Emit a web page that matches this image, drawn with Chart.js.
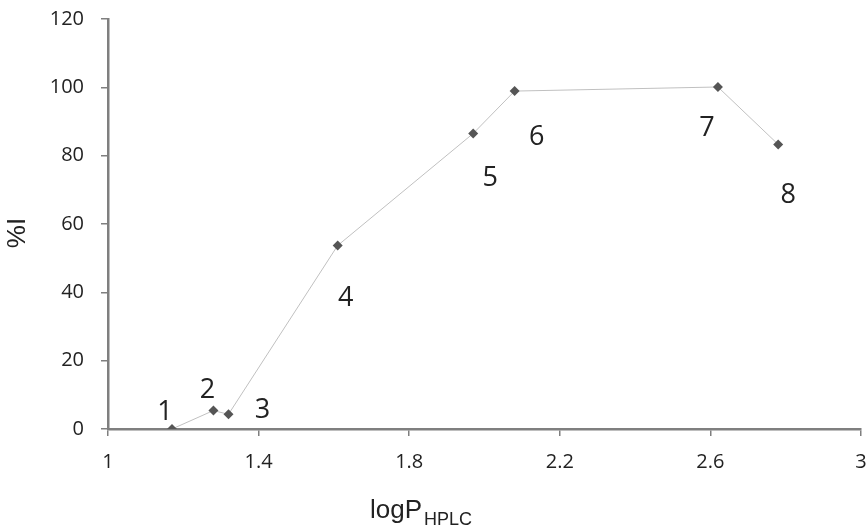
<!DOCTYPE html>
<html>
<head>
<meta charset="utf-8">
<script src="https://cdn.jsdelivr.net/npm/chart.js@4.4.1/dist/chart.umd.min.js"></script>
<style>
  html, body { margin: 0; padding: 0; background: #fff; }
  #wrap { width: 868px; height: 530px; }
</style>
</head>
<body>
<div id="wrap"><canvas id="chart" width="868" height="530"></canvas></div>
<script>
// compound numbers, logP (HPLC) and inhibition %
const compoundLabels = ['1', '2', '3', '4', '5', '6', '7', '8'];
const logP = [1.17, 1.28, 1.32, 1.61, 1.97, 2.08, 2.62, 2.78];
const inhibition = [0, 5.4, 4.3, 53.7, 86.5, 98.9, 100.1, 83.3];
// where each number sits relative to its point (px)
const labelOffsets = [[-7, -17], [-6, -20], [34, -4], [8, 53], [17, 45], [22, 46], [-11, 41], [10, 51]];

const axisGray = '#7f7f7f';
const textColor = '#222';

const pointNumbers = {
    id: 'pointNumbers',
    afterDatasetsDraw(chart) {
        const ctx = chart.ctx;
        const meta = chart.getDatasetMeta(0);
        ctx.save();
        ctx.fillStyle = textColor;
        ctx.font = '27px "Open Sans"';
        ctx.textAlign = 'center';
        ctx.textBaseline = 'middle';
        meta.data.forEach((pt, i) => {
            ctx.fillText(compoundLabels[i], pt.x + labelOffsets[i][0], pt.y + labelOffsets[i][1]);
        });
        ctx.restore();
    }
};

// axis titles: %I (rotated) and logP with HPLC subscript
const axisTitles = {
    id: 'axisTitles',
    afterDraw(chart) {
        const ctx = chart.ctx;
        ctx.save();
        ctx.fillStyle = textColor;

        ctx.save();
        ctx.translate(18, 233);
        ctx.rotate(-Math.PI / 2);
        ctx.font = '26px "Liberation Sans"';
        ctx.textAlign = 'center';
        ctx.textBaseline = 'middle';
        ctx.fillText('%I', 0, 0);
        ctx.restore();

        ctx.textBaseline = 'alphabetic';
        ctx.textAlign = 'left';
        ctx.font = '26px "Liberation Sans"';
        const wMain = ctx.measureText('logP').width;
        ctx.fillText('logP', 370, 518);
        ctx.font = '18px "Liberation Sans"';
        ctx.fillText('HPLC', 370 + wMain + 2, 525);
        ctx.restore();
    }
};

new Chart(document.getElementById('chart'), {
    type: 'scatter',
    data: {
        datasets: [{
            data: logP.map((x, i) => ({ x: x, y: inhibition[i] })),
            showLine: true,
            borderColor: '#c0c0c0',
            borderWidth: 1,
            pointStyle: 'rectRot',
            pointRadius: 5,
            pointBackgroundColor: '#555',
            pointBorderColor: '#555',
            pointBorderWidth: 0
        }]
    },
    options: {
        responsive: false,
        animation: false,
        layout: { padding: { top: 19, right: 7, left: 0, bottom: 0 } },
        plugins: {
            legend: { display: false },
            tooltip: { enabled: false }
        },
        scales: {
            x: {
                type: 'linear',
                min: 1,
                max: 3,
                afterFit: (scale) => {
                    scale.height = 101;
                    scale.paddingLeft = 0;
                    scale.paddingRight = 0;
                },
                ticks: {
                    stepSize: 0.4,
                    color: textColor,
                    font: { family: 'Open Sans', size: 20 },
                    padding: 14,
                    callback: (v) => Number(v.toFixed(1)).toString()
                },
                grid: { drawOnChartArea: false, tickLength: 7, color: axisGray, lineWidth: 1.5 },
                border: { color: axisGray, width: 2.5 }
            },
            y: {
                min: 0,
                max: 120,
                afterFit: (scale) => {
                    scale.width = 108;
                    scale.paddingTop = 0;
                    scale.paddingBottom = 0;
                },
                ticks: {
                    stepSize: 20,
                    color: textColor,
                    font: { family: 'Open Sans', size: 20 },
                    padding: 17
                },
                grid: { drawOnChartArea: false, tickLength: 7, color: axisGray, lineWidth: 1.5 },
                border: { color: axisGray, width: 2.5 }
            }
        }
    },
    plugins: [pointNumbers, axisTitles]
});
</script>
</body>
</html>
